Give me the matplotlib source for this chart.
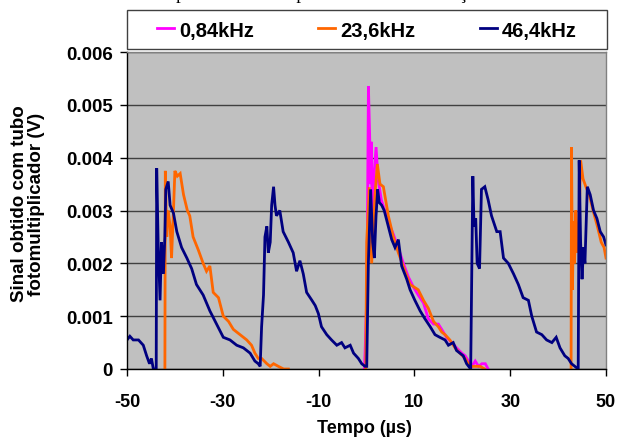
"""
Sinal do tubo fotomultiplicador para tres frequencias
"""

import matplotlib
matplotlib.use("Agg")
import matplotlib.pyplot as plt
from matplotlib.patches import Rectangle
import numpy as np

nan = np.nan

# valores em mV (convertidos para V no grafico); nan = fora da area visivel
t_084 = [-0.6, -0.3, 0.1, 0.4, 0.65, 0.85, 1.0, 1.2, 1.5, 2.0, 2.4, 3.1, 3.8,
         4.5, 5.6, 6.6, 7.7, 8.7, 9.8, 10.8, 11.9, 12.9, 14.0, 15.0, 15.7,
         16.7, 17.8, 18.8, 19.9, 20.6, 21.3, 22.0, 22.7, 23.4, 24.1, 24.8,
         25.4, 25.7]
v_084 = [-0.3, 0.3, 1.5, 5.35, 4.45, 3.5, 4.3, 2.8, 3.6, 4.2, 3.6, 3.2, 3.0,
         2.8, 2.55, 2.3, 2.0, 1.75, 1.55, 1.4, 1.25, 0.95, 0.85, 0.85, 0.75,
         0.6, 0.5, 0.4, 0.3, 0.25, 0.15, 0.05, 0.15, 0.05, 0.1, 0.1,
         0.0, -0.3]

t_236 = [-42.1, -42.0, -41.7, -41.4, -41.0, -40.7, -40.3, -40.0, -39.5, -38.9,
         -38.2, -37.4, -36.9, -36.2, -35.1, -34.1, -33.4, -32.7, -32.0, -30.9,
         -29.9, -28.8, -27.8, -26.4, -25.0, -24.0, -23.3, -22.6, -21.9, -20.8,
         -20.1, -19.4, -18.4, -17.3, -16.3, -16.0,
         nan,
         -0.2, 0.04, 0.59, 1.08, 1.78, 2.26, 2.82, 3.52, 4.56, 5.6, 6.65, 8.04,
         9.1, 10.8, 11.9, 12.9, 14.0, 15.0, 15.7, 16.4, 17.4, 18.5, 19.5, 20.6,
         21.3, 22.0, 22.7, 23.7, 24.7, 25.0,
         nan,
         42.7, 42.8, 43.0, 43.2, 43.45, 43.7, 44.0, 44.3, 44.7, 45.2, 45.8,
         46.5, 47.3, 48.2, 49.0, 49.6, 50.0]
v_236 = [-0.5, 3.75, 2.5, 3.0, 2.7, 2.1, 3.0, 3.75, 3.65, 3.7,
         3.3, 3.0, 2.9, 2.5, 2.25, 2.0, 1.85, 1.95, 1.45, 1.35,
         1.0, 0.9, 0.75, 0.65, 0.55, 0.45, 0.3, 0.2, 0.2, 0.1,
         0.05, 0.1, 0.05, 0.0, 0.0, -0.3,
         nan,
         -0.5, 2.4, 3.44, 2.0, 3.3, 3.88, 3.5, 3.45, 2.9, 2.5, 2.2, 1.85,
         1.6, 1.5, 1.3, 1.15, 0.9, 0.8, 0.7, 0.65, 0.55, 0.4, 0.3, 0.2,
         0.1, 0.05, 0.05, 0.05, 0.0, -0.3,
         nan,
         -0.5, 4.2, 1.5, 2.8, 2.0, 3.0, 2.2, 2.5, 3.95, 3.6, 3.45,
         3.3, 3.0, 2.7, 2.4, 2.3, 2.1]

t_464 = [-50.0, -49.4, -48.7, -47.6, -46.6, -45.9, -45.3, -44.9, -44.5, -43.9,
         -43.8, -43.5, -43.1, -42.8, -42.4, -42.1, -41.9, -41.4, -41.0, -40.3,
         -39.6, -38.6, -37.5, -36.5, -35.5, -34.1, -32.7, -31.3, -29.9, -28.5,
         -27.1, -25.7, -24.3, -23.3, -22.6, -22.2, -21.9, -21.5, -21.2, -20.8,
         -20.5, -20.1, -19.8, -19.4, -19.1, -18.8, -18.1, -17.4, -16.3, -15.3,
         -14.6, -13.9, -13.2, -12.5, -11.4, -10.7, -10.05, -9.4, -8.3, -7.3,
         -6.2, -5.2, -4.5, -3.4, -2.7, -1.7, -1.0, -0.3, 0.05, 0.39, 0.87,
         1.29, 1.64, 1.99, 2.33, 2.68, 3.17, 3.7, 4.56, 5.26, 5.95, 6.65, 7.34,
         8.4, 9.1, 10.1, 11.2, 12.2, 13.3, 14.3, 15.3, 16.4, 17.1, 18.1, 18.8,
         19.5, 20.2, 20.9, 21.75, 22.2, 22.45, 22.8, 23.1, 23.6, 24.0, 24.7,
         25.4, 26.1, 27.2, 27.9, 28.6, 29.6, 30.7, 31.7, 32.7, 33.8, 34.5,
         35.5, 36.6, 37.6, 38.7, 39.6, 40.4, 41.4, 42.1, 42.8, 43.5, 44.2,
         44.4, 44.7, 45.0, 45.3, 45.6, 46.1, 46.7, 47.4, 48.1, 48.8, 49.5, 50.0]
v_464 = [0.55, 0.62, 0.55, 0.55, 0.45, 0.25, 0.1, 0.2, 0.0, 0.0,
         3.8, 2.4, 1.3, 2.4, 1.8, 2.5, 3.4, 3.55, 3.1, 2.95,
         2.6, 2.3, 2.1, 1.9, 1.6, 1.4, 1.1, 0.85, 0.6, 0.55,
         0.45, 0.4, 0.3, 0.15, 0.1, 0.05, 0.8, 1.4, 2.5, 2.7,
         2.2, 2.4, 3.1, 3.45, 3.1, 2.9, 3.0, 2.6, 2.4, 2.2,
         1.85, 2.05, 1.8, 1.45, 1.3, 1.2, 1.05, 0.8, 0.65, 0.55,
         0.45, 0.5, 0.4, 0.45, 0.3, 0.2, 0.1, 0.05, 0.05, 2.0, 3.4,
         2.4, 2.1, 2.9, 3.4, 3.15, 3.1, 3.0, 2.7, 2.45, 2.3, 2.45, 1.95,
         1.7, 1.5, 1.3, 1.1, 0.95, 0.8, 0.65, 0.6, 0.55, 0.45, 0.5, 0.35,
         0.3, 0.25, 0.1, 0.0, 3.65, 2.7, 2.85, 2.0, 1.9, 3.4, 3.45,
         3.2, 2.9, 2.6, 2.6, 2.1, 2.0, 1.8, 1.6, 1.35, 1.3, 1.0,
         0.7, 0.65, 0.55, 0.5, 0.6, 0.4, 0.25, 0.2, 0.1, 0.05, 0.0,
         3.95, 2.4, 1.7, 2.3, 2.0, 3.45, 3.3, 3.0, 2.85, 2.6, 2.5, 2.35]

series = [
    ("0,84kHz", t_084, v_084, "#FF00FF"),
    ("23,6kHz", t_236, v_236, "#FF6600"),
    ("46,4kHz", t_464, v_464, "#000080"),
]

x_ticks = [-50, -30, -10, 10, 30, 50]
y_ticks = [0, 0.001, 0.002, 0.003, 0.004, 0.005, 0.006]
y_tick_labels = ["0", "0.001", "0.002", "0.003", "0.004", "0.005", "0.006"]

plt.rcParams["font.family"] = ["Liberation Sans", "DejaVu Sans"]
plt.rcParams["font.weight"] = "bold"
plt.rcParams["axes.unicode_minus"] = False

W, H = 618, 439
fig = plt.figure(figsize=(W / 100, H / 100), dpi=100)
ax = fig.add_axes([127 / W, 1 - 370 / H, (606 - 127) / W, (370 - 53) / H])
ax.set_facecolor("#C0C0C0")

handles = []
for label, t, v, color in series:
    line, = ax.plot(t, np.array(v) * 1e-3, color=color, lw=2.0,
                    solid_joinstyle="miter", label=label)
    handles.append(line)

ax.set_xlim(-50, 50)
ax.set_ylim(0, 0.006)
ax.set_xticks(x_ticks)
ax.set_yticks(y_ticks)
ax.set_yticklabels(y_tick_labels)
ax.yaxis.grid(True, color="#404040", lw=1.0)
ax.set_axisbelow(True)

ax.tick_params(direction="out", length=5, width=1, labelsize=13)
ax.tick_params(axis="y", pad=5, labelsize=13.5)
ax.tick_params(axis="x", pad=12)
for name in ["left", "bottom"]:
    ax.spines[name].set_color("black")
    ax.spines[name].set_linewidth(1)
for name in ["top", "right"]:
    ax.spines[name].set_color("#808080")
    ax.spines[name].set_linewidth(1)

# rotulos dos eixos
fig.text(364 / W, 1 - 433 / H, "Tempo (µs)", fontsize=13, fontweight="bold",
         ha="center", va="baseline")
fig.text(28 / W, 1 - 204 / H, "Sinal obtido com tubo\nfotomultiplicador (V)",
         fontsize=13.5, fontweight="bold", rotation=90, ha="center",
         va="center", multialignment="center", linespacing=1.05)

# caixa da legenda
fig.patches.append(Rectangle((127 / W, 1 - 50 / H), (607 - 127) / W, 39 / H,
                             transform=fig.transFigure, facecolor="white",
                             edgecolor="#404040", lw=1))
fig.legend(handles=handles, loc="center", ncol=3,
           bbox_to_anchor=(367 / W, 1 - 31 / H), frameon=False,
           prop={"size": 14.5, "weight": "bold"}, handlelength=0.85,
           handletextpad=0.25, columnspacing=3.2, borderpad=0)

# titulo cortado no topo
fig.text(139 / W, 1 + 1 / H, "Comportamento temporal do sinal em função",
         family="Liberation Serif", fontsize=13.8, ha="left", va="baseline",
         fontweight="normal")

fig.savefig("out.png", dpi=100)
